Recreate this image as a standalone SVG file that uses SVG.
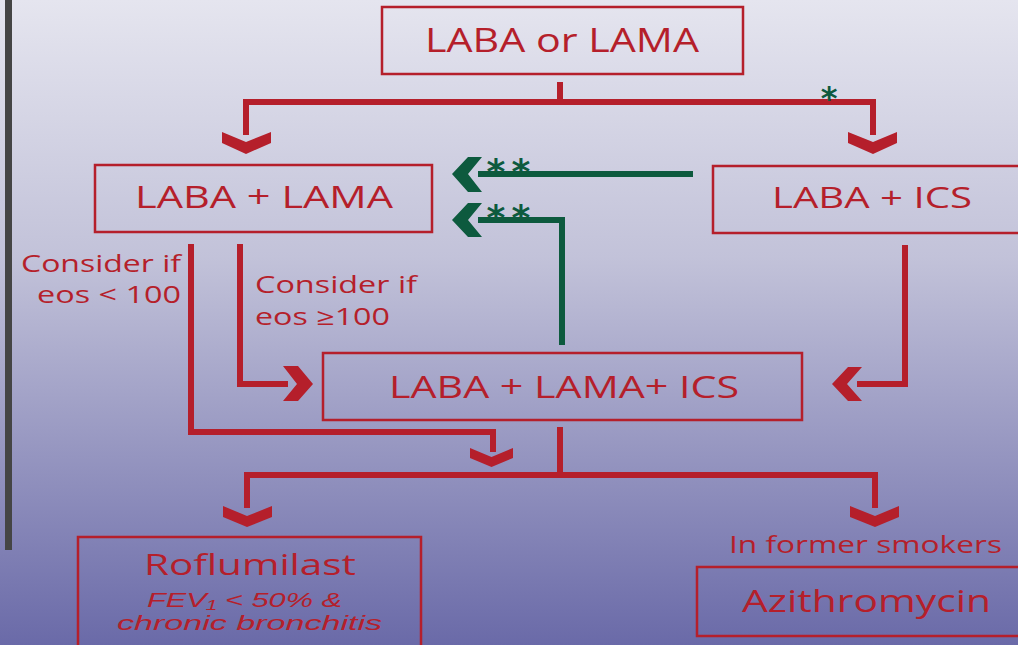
<svg xmlns="http://www.w3.org/2000/svg" width="1018" height="645" viewBox="0 0 1018 645">
<defs>
<linearGradient id="bg" x1="0" y1="0" x2="0" y2="1">
<stop offset="0" stop-color="#e5e5ef"/>
<stop offset="0.4" stop-color="#c2c2d9"/>
<stop offset="1" stop-color="#6a6aa8"/>
</linearGradient>
<style>
.box{fill:none;stroke:#b51f2b;stroke-width:2.5}
.red{fill:none;stroke:#b51f2b;stroke-width:6}
.grn{fill:none;stroke:#0d5a3e;stroke-width:6}
.rh{fill:#b51f2b}
.gh{fill:#0d5a3e}
.t{font-family:"Open Sans","Liberation Sans",sans-serif;fill:#b51f2b}
.ti{font-family:"Liberation Sans",sans-serif;font-style:italic;fill:#b51f2b;font-size:21px}
.ast{font-family:"DejaVu Sans",sans-serif;font-weight:bold;fill:#0d5a3e;font-size:36px}
</style>
</defs>
<rect width="1018" height="645" fill="url(#bg)"/>
<rect x="5" y="0" width="7" height="550" fill="#454545"/>

<g id="connectors">
<path class="red" d="M560 82 V102 M246 135 V102 H873 V135"/>
<path class="rh" d="M222 132 L246 142 L271 132 L271 143 L246 154 L222 143 Z"/>
<path class="rh" d="M848 132 L873 142 L897 132 L897 143 L873 154 L848 143 Z"/>
<path class="red" d="M240 244 V384 H288"/>
<path class="rh" d="M283 366 L298 366 L313 384 L298 401 L283 401 L297 384 Z"/>
<path class="red" d="M191 244 V432 H493 V452"/>
<path class="rh" d="M470 448 L491.5 457 L513 448 L513 458 L491.5 467 L470 458 Z"/>
<path class="red" d="M905 245 V384 H857"/>
<path class="rh" d="M862 367 L847 384 L862 401 L848 401 L832 384 L848 367 Z"/>
<path class="red" d="M560 427 V475 M247 508 V475 H875 V508"/>
<path class="rh" d="M223 506 L247 516 L272 506 L272 517 L247 527 L223 517 Z"/>
<path class="rh" d="M850 506 L875 516 L899 506 L899 517 L875 527 L850 517 Z"/>
<path class="grn" d="M478 174 H693"/>
<path class="gh" d="M482 157 L468 174 L482 192 L468 192 L452 174 L468 157 Z"/>
<path class="grn" d="M478 220 H562 V345"/>
<path class="gh" d="M482 203 L468 220 L482 237 L468 237 L452 220 L468 203 Z"/>
<text class="ast" x="829" y="109" style="font-size:32px" text-anchor="middle">*</text>
<text class="ast" x="496" y="184" text-anchor="middle">*</text>
<text class="ast" x="521" y="184" text-anchor="middle">*</text>
<text class="ast" x="496" y="230" text-anchor="middle">*</text>
<text class="ast" x="521" y="230" text-anchor="middle">*</text>
<text class="t" x="21" y="272" font-size="23" textLength="160" lengthAdjust="spacingAndGlyphs">Consider if</text>
<text class="t" x="37" y="303" font-size="23" textLength="144" lengthAdjust="spacingAndGlyphs">eos &lt; 100</text>
<text class="t" x="255" y="293" font-size="23" textLength="162" lengthAdjust="spacingAndGlyphs">Consider if</text>
<text class="t" x="255" y="325" font-size="23" textLength="135" lengthAdjust="spacingAndGlyphs">eos ≥100</text>
<text class="t" x="729" y="553" font-size="23" textLength="273" lengthAdjust="spacingAndGlyphs">In former smokers</text>
</g>

<g id="n1">
<rect class="box" x="382" y="7" width="361" height="67"/>
<text class="t" x="425" y="52" font-size="32" textLength="274" lengthAdjust="spacingAndGlyphs">LABA or LAMA</text>
</g>
<g id="n2">
<rect class="box" x="95" y="165" width="337" height="67"/>
<text class="t" x="135" y="208" font-size="31" textLength="258" lengthAdjust="spacingAndGlyphs">LABA + LAMA</text>
</g>
<g id="n3">
<rect class="box" x="713" y="166" width="320" height="67"/>
<text class="t" x="772" y="208" font-size="30" textLength="200" lengthAdjust="spacingAndGlyphs">LABA + ICS</text>
</g>
<g id="n4">
<rect class="box" x="323" y="353" width="479" height="67"/>
<text class="t" x="389" y="398" font-size="31" textLength="350" lengthAdjust="spacingAndGlyphs">LABA + LAMA+ ICS</text>
</g>
<g id="n5">
<rect class="box" x="78" y="537" width="343" height="120"/>
<text class="t" x="144" y="575" font-size="30" textLength="212" lengthAdjust="spacingAndGlyphs">Roflumilast</text>
<text class="ti" x="147" y="607" textLength="195" lengthAdjust="spacingAndGlyphs">FEV₁ &lt; 50% &amp;</text>
<text class="ti" x="117" y="630" textLength="265" lengthAdjust="spacingAndGlyphs">chronic bronchitis</text>
</g>
<g id="n6">
<rect class="box" x="697" y="567" width="330" height="69"/>
<text class="t" x="742" y="612" font-size="31" textLength="249" lengthAdjust="spacingAndGlyphs">Azithromycin</text>
</g>
</svg>
